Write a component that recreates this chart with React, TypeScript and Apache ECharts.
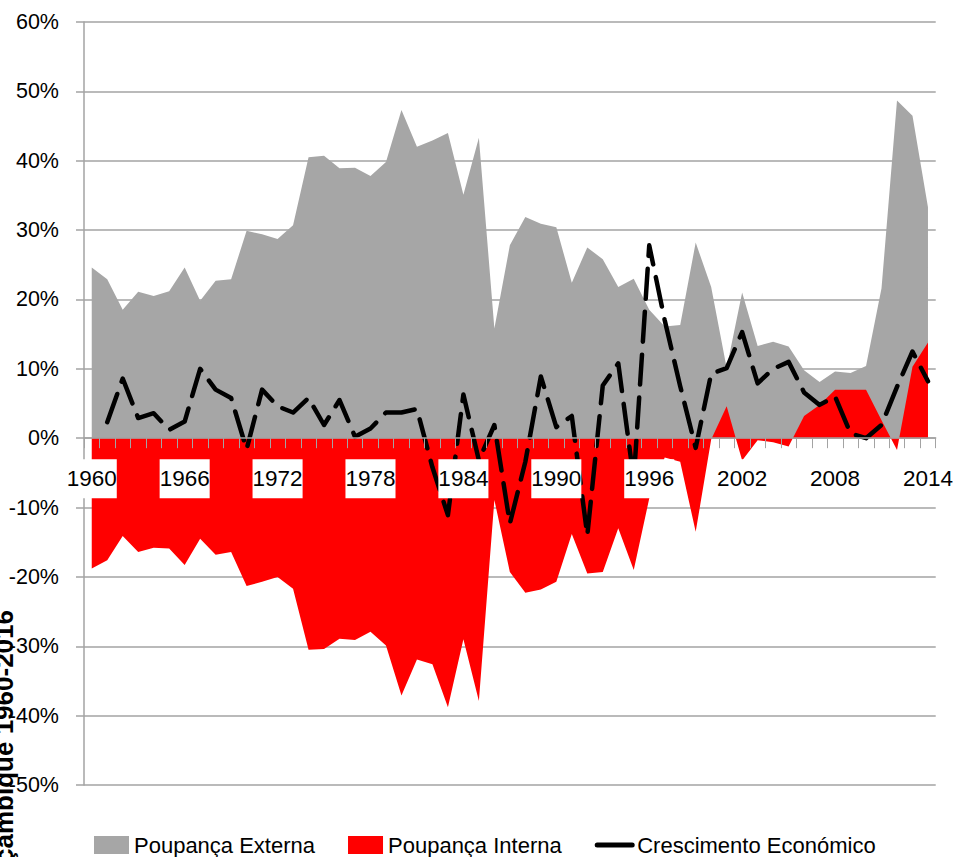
import React, { useEffect, useRef } from 'react';
import * as echarts from 'echarts';

const years = [
  '1960', '1961', '1962', '1963', '1964', '1965', '1966', '1967', '1968', '1969',
  '1970', '1971', '1972', '1973', '1974', '1975', '1976', '1977', '1978', '1979',
  '1980', '1981', '1982', '1983', '1984', '1985', '1986', '1987', '1988', '1989',
  '1990', '1991', '1992', '1993', '1994', '1995', '1996', '1997', '1998', '1999',
  '2000', '2001', '2002', '2003', '2004', '2005', '2006', '2007', '2008', '2009',
  '2010', '2011', '2012', '2013', '2014',
];

const poupancaExterna = [
  24.6, 22.9, 18.5, 21.1, 20.5, 21.2, 24.6, 19.8, 22.7, 22.9,
  29.9, 29.4, 28.7, 30.7, 40.5, 40.7, 38.9, 39.0, 37.8, 39.8,
  47.3, 42.0, 42.9, 44.0, 35.1, 43.3, 15.8, 27.8, 31.9, 30.9,
  30.4, 22.4, 27.5, 25.8, 21.8, 23.0, 18.5, 16.1, 16.3, 28.2,
  21.8, 10.1, 21.0, 13.3, 13.9, 13.2, 9.8, 8.1, 9.6, 9.4,
  10.4, 21.6, 48.7, 46.5, 33.3,
];

const poupancaInterna = [
  -18.8, -17.6, -14.1, -16.4, -15.8, -15.9, -18.3, -14.5, -16.8, -16.4,
  -21.3, -20.7, -20.0, -21.7, -30.5, -30.4, -28.9, -29.1, -27.9, -29.9,
  -37.1, -31.9, -32.6, -38.8, -29.0, -37.9, -8.9, -19.3, -22.3, -21.8,
  -20.7, -13.8, -19.5, -19.3, -13.0, -19.0, -8.7, -2.8, -3.4, -13.5,
  -0.2, 4.6, -3.2, -0.3, -0.6, -1.2, 3.2, 4.8, 7.0, 7.0,
  7.0, 2.6, -1.7, 10.3, 13.8,
];

const crescimento = [
  null, 2.3, 8.6, 2.9, 3.6, 1.2, 2.4, 10.0, 7.0, 5.8,
  -1.6, 7.0, 4.6, 3.7, 5.8, 1.9, 5.5, 0.2, 1.4, 3.7,
  3.7, 4.2, -4.2, -11.1, 6.3, -3.2, 1.9, -12.3, -3.4, 8.9,
  1.6, 3.2, -14.0, 7.6, 10.8, -6.0, 27.8, 17.0, 7.5, -1.4,
  9.3, 10.1, 15.3, 7.9, 10.0, 11.0, 6.6, 4.8, 6.0, 0.7,
  0.0, 1.9, 7.4, 12.5, 8.2,
];

const yMin = -50;
const yMax = 60;
const yStep = 10;

const seriesNames = ['Poupança Externa', 'Poupança Interna', 'Crescimento Económico'];
const sideTitle = 'Moçambique 1960-2016';

const FONT = '"Liberation Sans", Arial, sans-serif';
const GRID_GREY = '#a3a3a3';

const CHART_W = 956;
const CHART_H = 857;
const GRID_TOP = 22;
const GRID_BOTTOM = 72;

export default function App() {
  const ref = useRef<HTMLDivElement>(null);

  useEffect(() => {
    if (!ref.current) return;
    const chart = echarts.init(ref.current, null, { renderer: 'svg' });
    // place the category axis on the zero line (distance from the grid's bottom edge)
    const plotH = CHART_H - GRID_TOP - GRID_BOTTOM;
    const zeroOffset = (plotH * (0 - yMin)) / (yMax - yMin);
    chart.setOption({
      animation: false,
      backgroundColor: '#ffffff',
      textStyle: { fontFamily: FONT },
      grid: { left: 84, right: 20, top: GRID_TOP, bottom: GRID_BOTTOM, containLabel: false },
      legend: {
        left: 89,
        top: 829,
        itemWidth: 35,
        itemHeight: 18,
        itemGap: 33,
        textStyle: { fontFamily: FONT, fontSize: 22, color: '#000' },
        data: [
          { name: seriesNames[0], icon: 'rect' },
          { name: seriesNames[1], icon: 'rect' },
          {
            name: seriesNames[2],
            itemStyle: { opacity: 0 },
            lineStyle: { type: 'solid', width: 5, cap: 'round' },
          },
        ],
      },
      graphic: [
        {
          type: 'text',
          x: 17,
          y: 610,
          rotation: Math.PI / 2,
          style: {
            text: sideTitle,
            font: 'bold 26px "Liberation Sans", Arial, sans-serif',
            fill: '#000',
            align: 'right',
            verticalAlign: 'bottom',
          },
        },
      ],
      xAxis: {
        type: 'category',
        data: years,
        boundaryGap: true,
        position: 'bottom',
        offset: -zeroOffset,
        z: 10,
        axisLine: { show: true, onZero: false, lineStyle: { color: GRID_GREY, width: 1.5 } },
        axisTick: { show: true, interval: 0, length: 10, lineStyle: { color: GRID_GREY, width: 1 } },
        axisLabel: {
          interval: 5,
          margin: 21,
          fontFamily: FONT,
          fontSize: 22.5,
          lineHeight: 27,
          color: '#000',
          backgroundColor: '#ffffff',
          padding: [6, 0, 6, 0],
        },
        splitLine: { show: false },
      },
      yAxis: {
        type: 'value',
        min: yMin,
        max: yMax,
        interval: yStep,
        axisLine: { show: true, lineStyle: { color: GRID_GREY, width: 1.5 } },
        axisTick: { show: true, length: 8, lineStyle: { color: GRID_GREY, width: 1.5 } },
        axisLabel: {
          formatter: '{value}%',
          margin: 25,
          fontFamily: FONT,
          fontSize: 21.5,
          color: '#000',
        },
        splitLine: { show: true, lineStyle: { color: GRID_GREY, width: 1.5 } },
      },
      series: [
        {
          name: seriesNames[0],
          type: 'line',
          data: poupancaExterna,
          z: 1,
          symbol: 'none',
          showSymbol: false,
          lineStyle: { width: 0, color: '#a6a6a6' },
          itemStyle: { color: '#a6a6a6' },
          areaStyle: { color: '#a6a6a6', opacity: 1 },
        },
        {
          name: seriesNames[1],
          type: 'line',
          data: poupancaInterna,
          z: 2,
          symbol: 'none',
          showSymbol: false,
          lineStyle: { width: 0, color: '#ff0000' },
          itemStyle: { color: '#ff0000' },
          areaStyle: { color: '#ff0000', opacity: 1 },
        },
        {
          name: seriesNames[2],
          type: 'line',
          data: crescimento,
          z: 5,
          symbol: 'none',
          showSymbol: false,
          itemStyle: { color: '#000' },
          lineStyle: { color: '#000', width: 4.5, type: [30, 13], cap: 'round', join: 'round' },
        },
      ],
    });
    return () => chart.dispose();
  }, []);

  return (
    <div
      ref={ref}
      style={{ position: 'absolute', left: 0, top: 0, width: CHART_W, height: CHART_H }}
    />
  );
}
